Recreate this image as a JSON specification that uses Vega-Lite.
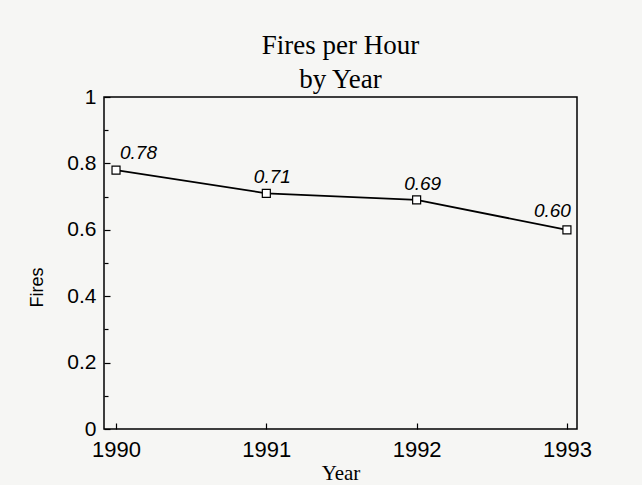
{
  "$schema": "https://vega.github.io/schema/vega-lite/v6.json",
  "width": 473,
  "height": 332,
  "autosize": "none",
  "padding": {"left": 104, "top": 97, "right": 65, "bottom": 56},
  "background": "#f6f6f4",
  "title": {
    "text": "Fires per Hour",
    "subtitle": "by Year",
    "font": "Liberation Serif",
    "fontSize": 27,
    "fontWeight": "normal",
    "color": "black",
    "subtitleFont": "Liberation Serif",
    "subtitleFontSize": 27,
    "subtitleColor": "black",
    "subtitlePadding": 7,
    "anchor": "middle",
    "offset": -8
  },
  "data": {
    "values": [
      {"Year": 1990, "Fires": 0.78},
      {"Year": 1991, "Fires": 0.71},
      {"Year": 1992, "Fires": 0.69},
      {"Year": 1993, "Fires": 0.60}
    ]
  },
  "encoding": {
    "x": {
      "field": "Year",
      "type": "quantitative",
      "scale": {"domain": [1989.92, 1993.067], "nice": false, "zero": false},
      "axis": {
        "values": [1990, 1991, 1992, 1993],
        "format": "d",
        "tickSize": -6,
        "tickWidth": 1.2,
        "labelFont": "Liberation Sans",
        "labelFontSize": 22,
        "labelPadding": 16,
        "title": "Year",
        "titleFont": "Liberation Serif",
        "titleFontSize": 21,
        "titleFontWeight": "normal",
        "titleBaseline": "alphabetic",
        "titleY": 50
      }
    }
  },
  "layer": [
    {
      "mark": {"type": "line", "color": "black", "strokeWidth": 1.8},
      "encoding": {
        "y": {
          "field": "Fires",
          "type": "quantitative",
          "scale": {"domain": [0, 1], "nice": false},
          "axis": {
            "orient": "left",
            "values": [0, 0.2, 0.4, 0.6, 0.8, 1],
            "format": "~g",
            "tickSize": -6,
            "tickWidth": 1.2,
            "labelFont": "Liberation Sans",
            "labelFontSize": 21,
            "labelPadding": 14,
            "title": "Fires",
            "titleFont": "Liberation Sans",
            "titleFontSize": 18,
            "titleFontWeight": "normal",
            "titleAngle": 270,
            "titleAlign": "center",
            "titleBaseline": "middle",
            "titleX": -67,
            "titleY": 190
          }
        }
      }
    },
    {
      "mark": {"type": "point", "shape": "square", "size": 64, "filled": true, "fill": "white", "stroke": "black", "strokeWidth": 1.2, "opacity": 1},
      "encoding": {
        "y": {
          "field": "Fires",
          "type": "quantitative",
          "scale": {"domain": [0, 1], "nice": false},
          "axis": {
            "orient": "left",
            "values": [0.1, 0.3, 0.5, 0.7, 0.9],
            "labels": false,
            "tickSize": -4,
            "tickWidth": 1.2,
            "title": null
          }
        }
      }
    },
    {
      "transform": [{"filter": "datum.Year == 1990"}],
      "mark": {"type": "text", "align": "left", "baseline": "alphabetic", "dx": 4, "dy": -11, "font": "Liberation Sans", "fontSize": 19, "fontStyle": "italic", "color": "black"},
      "encoding": {
        "y": {"field": "Fires", "type": "quantitative", "axis": null},
        "text": {"field": "Fires", "type": "quantitative", "format": ".2f"}
      }
    },
    {
      "transform": [{"filter": "datum.Year == 1991 || datum.Year == 1992"}],
      "mark": {"type": "text", "align": "center", "baseline": "alphabetic", "dx": 6, "dy": -10, "font": "Liberation Sans", "fontSize": 19, "fontStyle": "italic", "color": "black"},
      "encoding": {
        "y": {"field": "Fires", "type": "quantitative", "axis": null},
        "text": {"field": "Fires", "type": "quantitative", "format": ".2f"}
      }
    },
    {
      "transform": [{"filter": "datum.Year == 1993"}],
      "mark": {"type": "text", "align": "right", "baseline": "alphabetic", "dx": 4, "dy": -13, "font": "Liberation Sans", "fontSize": 19, "fontStyle": "italic", "color": "black"},
      "encoding": {
        "y": {"field": "Fires", "type": "quantitative", "axis": null},
        "text": {"field": "Fires", "type": "quantitative", "format": ".2f"}
      }
    }
  ],
  "resolve": {"axis": {"y": "independent"}},
  "config": {
    "view": {"stroke": "black", "strokeWidth": 1.5},
    "axis": {"domain": false, "grid": false, "tickColor": "black", "labelColor": "black", "titleColor": "black"}
  }
}
